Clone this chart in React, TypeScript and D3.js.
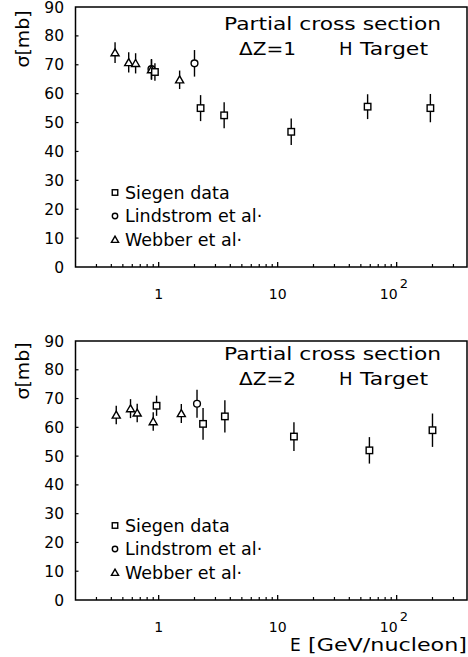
import React from "react";
import * as d3 from "d3";

const yTicks = [0, 10, 20, 30, 40, 50, 60, 70, 80, 90];
const decadeTicks = [1, 10, 100];
const legendLabels = ["Siegen data", "Lindstrom et al·", "Webber et al·"];

// delta Z = 1
const siegenE1 = [0.93, 2.25, 3.55, 13.0, 57, 192];
const siegenS1 = [67.5, 55, 52.5, 46.8, 55.5, 55];
const siegenErr1 = [3, 4.5, 4.5, 4.6, 4.3, 4.9];
const lindE1 = [0.87, 2.0];
const lindS1 = [68.5, 70.5];
const lindErr1 = [3.5, 4.6];
const webE1 = [0.43, 0.56, 0.64, 0.87, 1.5];
const webS1 = [74.2, 70.8, 70.5, 68.3, 64.8];
const webErr1 = [3.6, 3.5, 3.5, 3.5, 3.2];

// delta Z = 2
const siegenE2 = [0.96, 2.36, 3.6, 13.7, 59, 200];
const siegenS2 = [67.5, 61.2, 63.8, 56.8, 52, 59];
const siegenErr2 = [3.5, 5.5, 5.6, 5, 4.6, 5.8];
const lindE2 = [2.1];
const lindS2 = [68.2];
const lindErr2 = [4.9];
const webE2 = [0.44, 0.58, 0.66, 0.9, 1.55];
const webS2 = [64.3, 66.5, 65, 62, 64.8];
const webErr2 = [3.2, 3.3, 3.2, 3.2, 3.3];

const FONT = "DejaVu Sans, Verdana, sans-serif";
const LW = 1.4;

const x = d3.scaleLog().domain([0.2, 390]).range([75.5, 467]);
const minorTicks = x.ticks().filter((t) => !decadeTicks.includes(t) && t > 0.21);
const triPath = d3.symbol(d3.symbolTriangle, 28)() as string;
const triSmall = d3.symbol(d3.symbolTriangle, 22)() as string;

type Kind = "sq" | "ci" | "tr";

const Marker = ({ kind, cx, cy, small }: { kind: Kind; cx: number; cy: number; small?: boolean }) => {
  const s = small ? 5.5 : 6.5;
  if (kind === "sq")
    return <rect x={cx - s / 2} y={cy - s / 2} width={s} height={s} fill="#fff" stroke="#000" strokeWidth={LW} />;
  if (kind === "ci")
    return <circle cx={cx} cy={cy} r={small ? 2.7 : 3.4} fill="#fff" stroke="#000" strokeWidth={LW} />;
  return (
    <path d={small ? triSmall : triPath} transform={`translate(${cx},${cy + 0.8})`} fill="#fff" stroke="#000" strokeWidth={LW} />
  );
};

const Panel = ({ top, bottom, sets, dz, t1, t2, sigmaY, showE }: any) => {
  const y = d3.scaleLinear().domain([0, 90]).range([bottom, top]);
  const left = x.range()[0];
  const right = x.range()[1];
  const lblY = bottom + 32;
  return (
    <g fontFamily={FONT} fill="#000">
      <rect x={left} y={top} width={right - left} height={bottom - top} fill="none" stroke="#000" strokeWidth={1.5} />
      {yTicks.map((t) => (
        <g key={t}>
          {t > 0 && t < 90 && <line x1={left} x2={left + 3} y1={y(t)} y2={y(t)} stroke="#000" strokeWidth={1.2} />}
          <text x={64} y={y(t) + 5.5} textAnchor="end" fontSize={15.5}>{t}</text>
        </g>
      ))}
      {minorTicks.map((t) => (
        <line key={t} x1={x(t)} x2={x(t)} y1={bottom} y2={bottom - 3} stroke="#000" strokeWidth={1.2} />
      ))}
      {decadeTicks.map((t) => (
        <line key={t} x1={x(t)} x2={x(t)} y1={bottom} y2={bottom - 5} stroke="#000" strokeWidth={1.3} />
      ))}
      <text x={x(1)} y={lblY} textAnchor="middle" fontSize={14}>1</text>
      <text x={x(10)} y={lblY} textAnchor="middle" fontSize={14}>10</text>
      <text x={x(100) + 1} y={lblY} textAnchor="end" fontSize={14}>10</text>
      <text x={x(100) + 3} y={lblY - 11} fontSize={13}>2</text>

      <text transform={`translate(29,${sigmaY}) rotate(-90)`} textAnchor="middle" fontSize={17} textLength={57} lengthAdjust="spacingAndGlyphs">σ[mb]</text>

      <text x={224} y={top + t1} fontSize={18} textLength={217} lengthAdjust="spacingAndGlyphs">Partial cross section</text>
      <text y={top + t2} fontSize={18}>
        <tspan x={239} textLength={57} lengthAdjust="spacingAndGlyphs">{"ΔZ=" + dz}</tspan>
        <tspan x={339}>H</tspan>
        <tspan x={360} textLength={68} lengthAdjust="spacingAndGlyphs">Target</tspan>
      </text>

      {legendLabels.map((l, i) => {
        const by = bottom - 68.5 + i * 23.5;
        const kind: Kind = (["sq", "ci", "tr"] as Kind[])[i];
        return (
          <g key={l}>
            <Marker kind={kind} cx={115} cy={by - 6} small />
            <text x={125} y={by} fontSize={17.5}>{l}</text>
          </g>
        );
      })}

      {sets.map((set: any) =>
        set.e.map((e: number, i: number) => (
          <g key={set.kind + i}>
            <line x1={x(e)} x2={x(e)} y1={y(set.s[i] - set.err[i])} y2={y(set.s[i] + set.err[i])} stroke="#000" strokeWidth={LW} />
            <Marker kind={set.kind} cx={x(e)} cy={y(set.s[i])} />
          </g>
        ))
      )}

      {showE && (
        <text y={651} fontSize={17}>
          <tspan x={290}>E</tspan>
          <tspan x={308} textLength={159} lengthAdjust="spacingAndGlyphs">[GeV/nucleon]</tspan>
        </text>
      )}
    </g>
  );
};

export default function App() {
  const sets1 = [
    { kind: "ci", e: lindE1, s: lindS1, err: lindErr1 },
    { kind: "tr", e: webE1, s: webS1, err: webErr1 },
    { kind: "sq", e: siegenE1, s: siegenS1, err: siegenErr1 },
  ];
  const sets2 = [
    { kind: "ci", e: lindE2, s: lindS2, err: lindErr2 },
    { kind: "tr", e: webE2, s: webS2, err: webErr2 },
    { kind: "sq", e: siegenE2, s: siegenS2, err: siegenErr2 },
  ];
  return (
    <svg width={468} height={657} style={{ position: "absolute", left: 0, top: 0, background: "#fff" }}>
      <rect width={468} height={657} fill="#fff" />
      <Panel top={7} bottom={267} sets={sets1} dz="1" t1={23} t2={48} sigmaY={39} />
      <Panel top={341} bottom={600} sets={sets2} dz="2" t1={19} t2={44} sigmaY={371} showE />
    </svg>
  );
}
